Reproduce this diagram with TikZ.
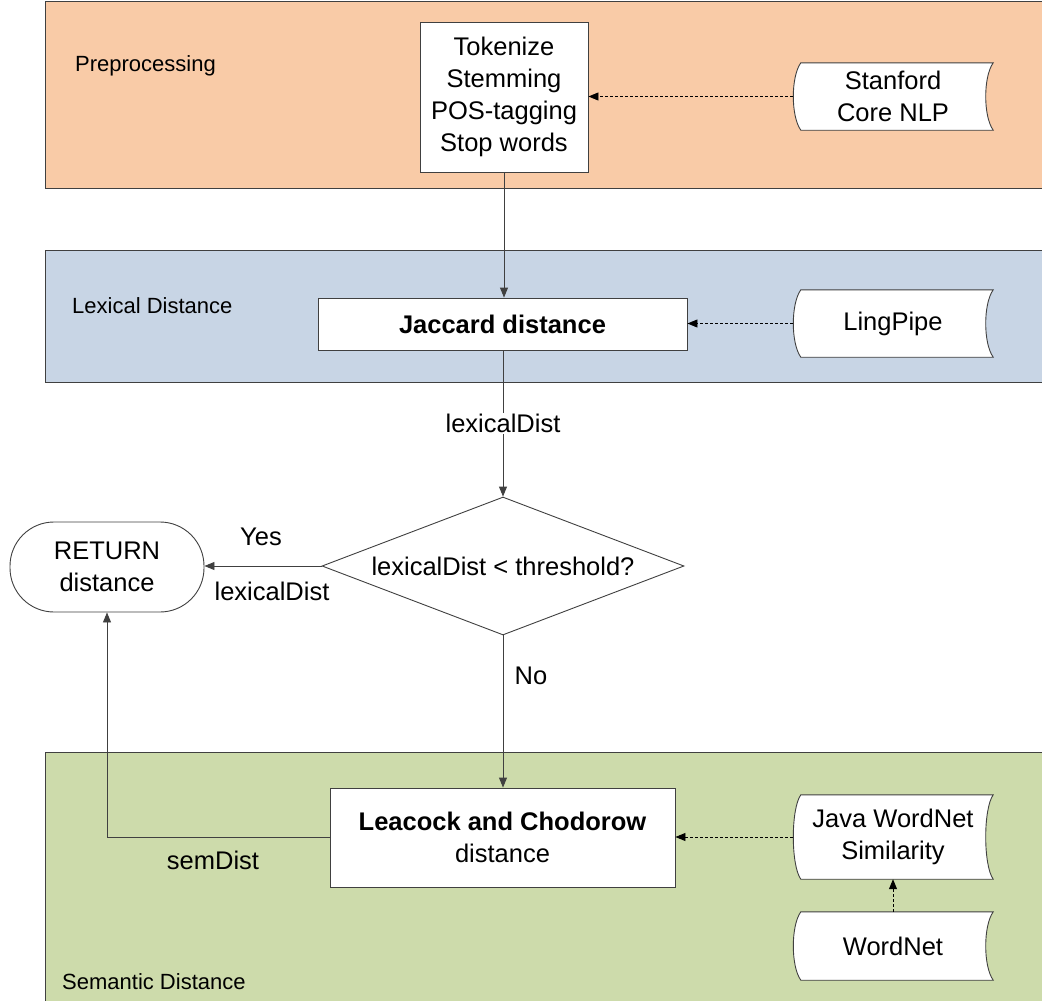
\documentclass[tikz,border=0pt]{standalone}
\usepackage{fontspec}
\setmainfont{Liberation Sans}
\usetikzlibrary{arrows.meta,shapes.geometric,calc}
\definecolor{preC}{HTML}{F9CBA7}
\definecolor{lexC}{HTML}{C8D5E5}
\definecolor{semC}{HTML}{CDDBAB}
\definecolor{lineC}{HTML}{404040}
\newcommand\nodefont{\fontsize{25.5}{32}\selectfont}
\tikzset{
  band/.style={draw=lineC, line width=0.9pt},
  procbox/.style={draw=lineC, fill=white, line width=0.9pt, align=center, inner sep=0pt, font=\nodefont},
  storebox/.style={inner sep=0pt, align=center, font=\nodefont},
  lbl/.style={font=\nodefont, inner sep=1pt},
  bandlbl/.style={font=\fontsize{22}{26}\selectfont, anchor=west, inner sep=0pt},
  flow/.style={draw=lineC, line width=0.9pt, -{Triangle[length=10pt,width=8pt]}},
  dflow/.style={draw=black, line width=0.9pt, dash pattern=on 3pt off 2pt, -{Triangle[length=10pt,width=8pt]}},
}
\newcommand\storeshape[1]{%
  \draw[draw=lineC, fill=white, line width=0.9pt]
    ([xshift=8pt]#1.north west) -- (#1.north east)
    .. controls ([xshift=-10pt,yshift=-14pt]#1.north east) and ([xshift=-10pt,yshift=14pt]#1.south east) .. (#1.south east)
    -- ([xshift=8pt]#1.south west)
    .. controls ([xshift=-2pt,yshift=14pt]#1.south west) and ([xshift=-2pt,yshift=-14pt]#1.north west) .. cycle;}
\begin{document}
\begin{tikzpicture}[x=1pt,y=-1pt]
\useasboundingbox (0,0) rectangle (1042,1001);
% bands
\fill[preC] (45,1) rectangle (1042,188);
\draw[band] (1042,1) -- (45,1) -- (45,188) -- (1042,188);
\fill[lexC] (45,250) rectangle (1042,382);
\draw[band] (1042,250) -- (45,250) -- (45,382) -- (1042,382);
\fill[semC] (45,752) rectangle (1042,1001);
\draw[band] (1042,752) -- (45,752) -- (45,1001);
\node[bandlbl] (lpre) at (75,66) {Preprocessing};
\node[bandlbl] (llex) at (72,306) {Lexical Distance};
\node[bandlbl] (lsem) at (62,982) {Semantic Distance};
% nodes
\node[procbox, minimum width=168pt, minimum height=150pt] (tok) at (504,97) {Tokenize\\Stemming\\POS-tagging\\Stop words};
\node[storebox, minimum width=200pt, minimum height=67pt] (stan) at (893,96.5) {};
\storeshape{stan}
\node[storebox] at (stan) {Stanford\\Core NLP};
\node[procbox, minimum width=369pt, minimum height=52pt, font=\nodefont\bfseries] (jac) at (502.5,324) {Jaccard distance};
\node[storebox, minimum width=200pt, minimum height=67pt] (ling) at (893,323.5) {};
\storeshape{ling}
\node[storebox] at (ling) {LingPipe};
\node[draw=lineC, fill=white, line width=0.9pt, diamond, aspect=2.6, minimum width=362pt, minimum height=138pt, inner sep=0pt, font=\nodefont] (dec) at (503,566) {lexicalDist < threshold?};
\node[draw=lineC, fill=white, line width=0.9pt, rectangle, rounded corners=44pt, minimum width=194pt, minimum height=90pt, inner sep=0pt, align=center, font=\nodefont] (ret) at (107,567) {RETURN\\distance};
\node[procbox, minimum width=345pt, minimum height=99pt] (lea) at (502.5,837.5) {{\bfseries Leacock and Chodorow}\\distance};
\node[storebox, minimum width=200pt, minimum height=84pt] (java) at (893,837) {};
\storeshape{java}
\node[storebox] at (java) {Java WordNet\\Similarity};
\node[storebox, minimum width=200pt, minimum height=68pt] (wn) at (893,946) {};
\storeshape{wn}
\node[storebox] at (wn) {WordNet};
% connectors
\draw[dflow] (stan.west) -- (stan.west -| tok.east);
\draw[flow] (tok.south) -- (tok.south |- jac.north);
\draw[dflow] (ling.west) -- (ling.west -| jac.east);
\draw[flow] (jac.south -| dec.north) -- node[lbl, fill=white, pos=0.5] (l1) {lexicalDist} (dec.north);
\draw[flow] (dec.west) -- (dec.west -| ret.east);
\node[lbl] (yes) at (261,537) {Yes};
\node[lbl] (ld2) at (272,591) {lexicalDist};
\draw[flow] (dec.south) -- (dec.south |- lea.north);
\node[lbl] (no) at (531,676) {No};
\draw[flow] (lea.west) -- (ret.south |- lea.west) -- (ret.south);
\node[lbl] (sd) at (213,860) {semDist};
\draw[dflow] (java.west) -- (java.west -| lea.east);
\draw[dflow] (wn.north) -- (java.south);
\end{tikzpicture}
\end{document}
